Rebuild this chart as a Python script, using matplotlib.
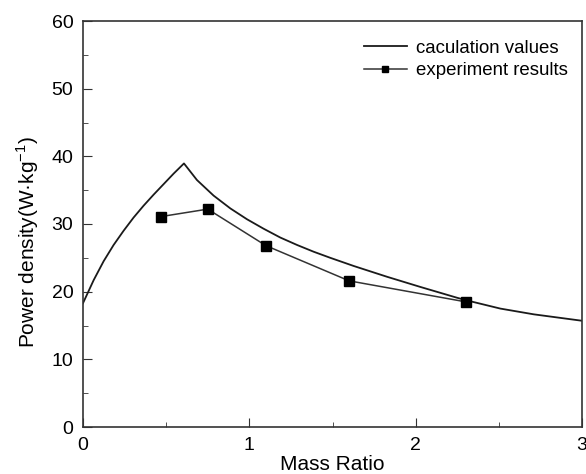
import matplotlib
matplotlib.use("Agg")
import matplotlib.pyplot as plt
from matplotlib.ticker import MultipleLocator

plt.rcParams['font.family'] = ['Liberation Sans', 'DejaVu Sans']
plt.rcParams['mathtext.fontset'] = 'custom'
plt.rcParams['mathtext.rm'] = 'Liberation Sans'

# calculation curve
calc_x = [0.0, 0.064, 0.124, 0.184, 0.244, 0.304, 0.364, 0.425, 0.485, 0.545,
          0.607, 0.685, 0.785, 0.886, 0.986, 1.086, 1.186, 1.287, 1.387, 1.487,
          1.627, 1.828, 2.028, 2.249, 2.309, 2.509, 2.71, 3.0]
calc_y = [18.3, 21.7, 24.5, 26.9, 29.0, 30.95, 32.7, 34.35, 35.9, 37.45,
          38.95, 36.5, 34.2, 32.3, 30.7, 29.3, 28.0, 26.9, 25.9, 25.0,
          23.8, 22.2, 20.7, 19.1, 18.7, 17.5, 16.65, 15.7]

# experiment results
exp_x = [0.47, 0.75, 1.10, 1.60, 2.30]
exp_y = [31.1, 32.2, 26.8, 21.6, 18.5]

fig = plt.figure(figsize=(5.86, 4.74), dpi=100)
ax = fig.add_axes([83/586, 1 - 427/474, (582-83)/586, (427-21)/474])

ax.plot(calc_x, calc_y, color='#1a1a1a', lw=1.3, label='caculation values')
ax.plot(exp_x, exp_y, color='#333333', lw=1.1, marker='s', ms=6.5,
        mfc='black', mec='black', label='experiment results')

ax.set_xlim(0, 3)
ax.set_ylim(0, 60)
ax.xaxis.set_major_locator(MultipleLocator(1))
ax.xaxis.set_minor_locator(MultipleLocator(0.5))
ax.yaxis.set_major_locator(MultipleLocator(10))
ax.yaxis.set_minor_locator(MultipleLocator(5))
ax.tick_params(which='both', direction='in', top=False, right=False, labelsize=14,
               color='#333333')
ax.tick_params(which='major', length=6.5, pad=7)
ax.tick_params(which='minor', length=3.5)
for s in ax.spines.values():
    s.set_linewidth(1.2)
    s.set_color('#333333')

ax.set_xlabel('Mass Ratio', fontsize=15, labelpad=1)
ax.set_ylabel(r'Power density(W·kg$^{\mathregular{-1}}$)', fontsize=15)
ax.yaxis.set_label_coords(-0.085, 0.455)

leg = ax.legend(loc='upper right', frameon=False, fontsize=13.4, handlelength=2.3,
                handletextpad=0.5, labelspacing=0.3, borderaxespad=0.35,
                bbox_to_anchor=(1.0, 0.988))
for h in leg.legend_handles:
    h.set_markersize(5)

fig.savefig('out.png', dpi=100)
